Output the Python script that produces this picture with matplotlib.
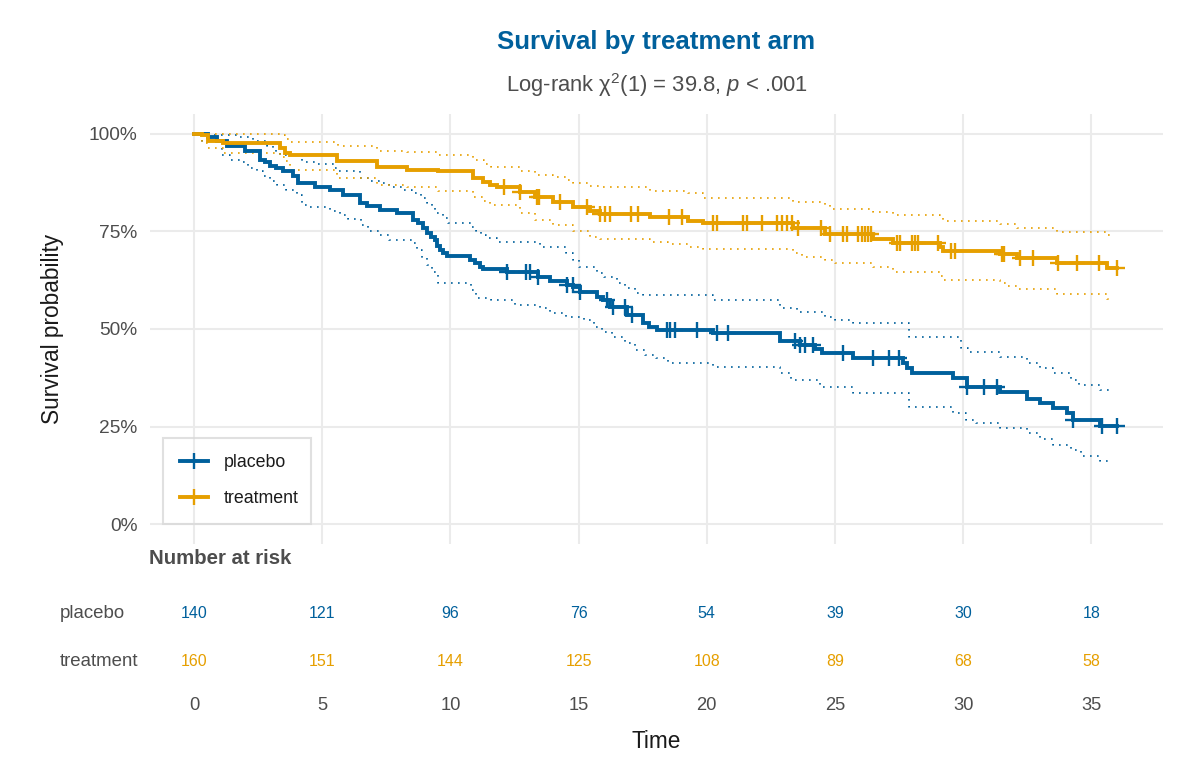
import numpy as np
import matplotlib
matplotlib.use("Agg")
import matplotlib.pyplot as plt
from matplotlib.transforms import blended_transform_factory
from matplotlib.lines import Line2D

plt.rcParams['font.family'] = ['Liberation Sans', 'DejaVu Sans']
plt.rcParams['mathtext.fontset'] = 'custom'
plt.rcParams['mathtext.rm'] = 'Liberation Sans'
plt.rcParams['mathtext.it'] = 'Liberation Sans:italic'

# ---------------- data ----------------
arms = ["placebo", "treatment"]
colors = {"placebo": "#00609C", "treatment": "#E69F00"}
end_time = 36.0
ci_end = 35.85

placebo_t = [0, 0.55, 0.9, 1.3, 2.0, 2.57, 2.75, 2.96, 3.2, 3.47, 3.86, 4.06, 4.72, 5.3, 5.81,
             6.47, 6.75, 7.25, 7.92, 8.54, 8.75, 8.93, 9.1, 9.25, 9.4, 9.48, 9.6, 9.7, 9.87,
             10.76, 10.96, 11.15, 11.27, 12.2, 13.42, 13.88, 14.55, 14.8, 15.05, 15.72, 15.95,
             16.22, 16.89, 17.51, 17.75, 18.06, 20.24, 22.85, 23.64, 24.22, 24.49, 25.7,
             27.65, 27.8, 28.0, 29.6, 30.15, 31.44, 32.49, 33.0, 33.5, 34.05, 34.28, 35.34]
placebo_s = [1.0, 0.99, 0.982, 0.969, 0.956, 0.933, 0.926, 0.918, 0.913, 0.905, 0.892, 0.874,
             0.864, 0.856, 0.844, 0.823, 0.815, 0.805, 0.797, 0.779, 0.772, 0.759, 0.746, 0.736,
             0.728, 0.713, 0.703, 0.695, 0.687, 0.677, 0.669, 0.659, 0.654, 0.646, 0.633, 0.623,
             0.613, 0.608, 0.595, 0.582, 0.574, 0.556, 0.536, 0.515, 0.505, 0.497, 0.49, 0.469,
             0.459, 0.449, 0.438, 0.426, 0.413, 0.4, 0.387, 0.374, 0.351, 0.338, 0.321, 0.31,
             0.297, 0.285, 0.267, 0.251]
placebo_cens = [12.21, 12.95, 13.10, 13.42, 14.55, 14.78, 15.05, 16.11, 16.34, 16.81, 17.08,
                18.45, 18.56, 18.76, 19.62, 20.40, 20.83, 23.44, 23.64, 23.83, 24.14, 25.31,
                26.48, 27.11, 27.50, 30.15, 30.81, 31.32, 34.28, 35.41, 36.0]

treatment_t = [0, 0.31, 0.55, 1.13, 3.35, 3.55, 3.74, 5.58, 7.14, 8.31, 9.52, 10.88, 11.27,
               11.54, 11.82, 12.71, 13.3, 14.0, 14.78, 15.44, 15.83, 17.78, 19.27, 19.85,
               23.36, 24.6, 26.48, 27.26, 29.1, 29.21, 31.44, 32.1, 33.66, 35.61]
treatment_s = [1.0, 0.995, 0.982, 0.977, 0.964, 0.951, 0.946, 0.931, 0.915, 0.908, 0.903,
               0.887, 0.877, 0.869, 0.864, 0.851, 0.838, 0.826, 0.813, 0.803, 0.795, 0.787,
               0.777, 0.772, 0.759, 0.744, 0.731, 0.721, 0.71, 0.70, 0.692, 0.682, 0.669, 0.656]
treatment_cens = [12.09, 12.71, 13.38, 13.46, 14.27, 15.33, 15.83, 16.03, 16.22, 17.04, 17.32,
                  18.53, 19.03, 20.24, 20.40, 21.41, 21.57, 22.15, 22.74, 22.93, 23.13, 23.32,
                  23.56, 24.45, 24.80, 25.31, 25.47, 25.90, 26.05, 26.17, 26.29, 26.40, 27.42,
                  27.53, 28.00, 28.12, 28.24, 29.02, 29.52, 29.68, 31.51, 31.59, 32.22, 32.72,
                  33.70, 34.44, 35.30, 36.0]

placebo_up_t = [0, 0.6, 1.8, 2.3, 2.85, 3.1, 3.2, 3.35, 4.2, 4.7, 5.45, 5.6, 6.47, 6.8, 7.25,
                7.6, 8.15, 8.5, 8.85, 9.1, 9.3, 9.4, 9.7, 9.9, 10.8, 11.0, 11.2, 11.4, 11.8,
                13.5, 14.5, 14.8, 15.0, 15.7, 16.0, 16.5, 16.8, 17.2, 17.5, 20.24, 22.85, 23.5,
                24.6, 25.0, 25.7, 27.9, 29.9, 30.2, 31.44, 32.5, 33.0, 33.5, 34.2, 34.5, 35.34]
placebo_up_s = [1.0, 0.997, 0.992, 0.982, 0.969, 0.959, 0.951, 0.946, 0.928, 0.921, 0.913,
                0.905, 0.887, 0.879, 0.874, 0.862, 0.856, 0.849, 0.836, 0.823, 0.81, 0.797,
                0.785, 0.772, 0.762, 0.751, 0.741, 0.733, 0.723, 0.71, 0.695, 0.677, 0.659,
                0.644, 0.633, 0.618, 0.605, 0.592, 0.587, 0.574, 0.554, 0.544, 0.531, 0.523,
                0.515, 0.479, 0.451, 0.441, 0.428, 0.413, 0.40, 0.387, 0.369, 0.356, 0.344]
placebo_lo_t = [0, 0.3, 1.1, 1.4, 1.8, 2.1, 2.45, 2.7, 2.95, 3.25, 3.6, 4.0, 4.2, 4.5, 5.3,
                5.7, 6.0, 6.5, 6.8, 7.2, 7.6, 8.5, 8.7, 8.9, 9.1, 9.3, 9.5, 10.8, 11.0, 11.6,
                12.5, 13.5, 13.9, 14.5, 15.2, 15.6, 15.9, 16.3, 16.8, 17.2, 17.6, 18.0, 18.5,
                20.24, 22.85, 23.3, 24.4, 25.7, 27.9, 29.6, 30.1, 30.5, 31.44, 32.5, 33.0, 33.5,
                34.2, 34.6, 35.34]
placebo_lo_s = [1.0, 0.982, 0.946, 0.933, 0.926, 0.913, 0.905, 0.892, 0.879, 0.869, 0.856,
                0.844, 0.818, 0.813, 0.803, 0.792, 0.782, 0.767, 0.751, 0.741, 0.728, 0.721,
                0.703, 0.682, 0.664, 0.646, 0.618, 0.60, 0.579, 0.574, 0.562, 0.554, 0.541,
                0.531, 0.523, 0.505, 0.492, 0.479, 0.464, 0.446, 0.433, 0.426, 0.413, 0.403,
                0.387, 0.369, 0.351, 0.336, 0.30, 0.285, 0.267, 0.259, 0.246, 0.233, 0.218,
                0.203, 0.19, 0.174, 0.162]

treatment_up_t = [0, 3.35, 3.55, 3.75, 5.5, 5.6, 7.14, 8.3, 9.5, 10.88, 11.3, 11.6, 12.7,
                  13.3, 14.0, 14.5, 14.78, 15.4, 15.83, 17.78, 19.27, 19.85, 23.36, 24.6, 24.8,
                  26.48, 27.26, 29.1, 29.21, 31.44, 32.1, 33.66, 35.61]
treatment_up_s = [1.0, 0.995, 0.987, 0.979, 0.974, 0.967, 0.956, 0.954, 0.946, 0.933, 0.923,
                  0.915, 0.905, 0.895, 0.89, 0.882, 0.874, 0.867, 0.862, 0.854, 0.849, 0.836,
                  0.826, 0.818, 0.808, 0.80, 0.792, 0.785, 0.777, 0.769, 0.759, 0.749, 0.741]
treatment_lo_t = [0, 0.3, 0.55, 1.13, 3.35, 3.55, 3.74, 5.58, 7.14, 8.31, 9.52, 10.88, 11.27,
                  11.54, 12.71, 13.3, 14.0, 14.78, 15.44, 15.83, 17.78, 18.5, 19.27, 19.85,
                  23.36, 23.7, 24.6, 25.0, 26.48, 27.26, 29.1, 29.21, 31.44, 31.7, 32.1, 33.66,
                  35.61]
treatment_lo_s = [1.0, 0.977, 0.964, 0.951, 0.941, 0.931, 0.908, 0.885, 0.869, 0.862, 0.854,
                  0.838, 0.828, 0.818, 0.797, 0.779, 0.767, 0.751, 0.736, 0.731, 0.723, 0.718,
                  0.71, 0.705, 0.695, 0.685, 0.677, 0.669, 0.659, 0.646, 0.636, 0.626, 0.618,
                  0.61, 0.603, 0.59, 0.577]

risk_times = [0, 5, 10, 15, 20, 25, 30, 35]
risk_placebo = [140, 121, 96, 76, 54, 39, 30, 18]
risk_treatment = [160, 151, 144, 125, 108, 89, 68, 58]

curves = {
    "placebo": (placebo_t, placebo_s, placebo_cens, placebo_up_t, placebo_up_s,
                placebo_lo_t, placebo_lo_s, risk_placebo),
    "treatment": (treatment_t, treatment_s, treatment_cens, treatment_up_t, treatment_up_s,
                  treatment_lo_t, treatment_lo_s, risk_treatment),
}

# ---------------- figure ----------------
W, H = 1200, 780
fig = plt.figure(figsize=(W / 100, H / 100), dpi=100)
px_l, px_r, px_t, px_b = 150, 1163, 114, 544
ax = fig.add_axes([px_l / W, 1 - px_b / H, (px_r - px_l) / W, (px_b - px_t) / H])

grid_c = "#EBEBEB"
text_grey = "#4D4D4D"

def step_xy(t, s, end):
    t = list(t) + [end]
    s = list(s) + [s[-1]]
    return t, s

def step_val(t, s, x):
    idx = np.searchsorted(np.asarray(t), x, side="right") - 1
    return np.asarray(s)[idx]

for arm in arms:
    t, s, cens, ut, us, lt, ls, _ = curves[arm]
    c = colors[arm]
    xu, yu = step_xy(ut, us, ci_end)
    xl, yl = step_xy(lt, ls, ci_end)
    ax.step(xu, yu, where="post", color=c, lw=1.2, ls=(0, (1, 3.2)), zorder=2)
    ax.step(xl, yl, where="post", color=c, lw=1.2, ls=(0, (1, 3.2)), zorder=2)
    xs, ys = step_xy(t, s, end_time)
    ax.step(xs, ys, where="post", color=c, lw=2.8, zorder=3, solid_joinstyle="miter")
    cy = step_val(t, s, np.asarray(cens))
    ax.plot(cens, cy, ls="none", marker="+", ms=11.5, mew=1.7, color=c, zorder=4)

ax.set_xlim((px_l - 194) / 25.64, (px_r - 194) / 25.64)
ax.set_ylim(-0.05, 1.05)
ax.set_xticks(risk_times)
ax.set_yticks([0, 0.25, 0.5, 0.75, 1.0])
ax.set_yticklabels(["0%", "25%", "50%", "75%", "100%"])
ax.tick_params(axis="x", length=0, labelbottom=False)
ax.tick_params(axis="y", length=0, labelsize=13.8, colors=text_grey, pad=9)
ax.grid(True, color=grid_c, lw=1.5)
ax.set_axisbelow(True)
for sp in ax.spines.values():
    sp.set_visible(False)
ax.set_ylabel("Survival probability", fontsize=16.3, color="#1A1A1A", labelpad=18)

# legend
handles = [Line2D([0], [0], color=colors[a], lw=2.8, marker="+", ms=11.5, mew=1.7) for a in arms]
leg = fig.legend(handles, arms, loc="lower left",
                 bbox_to_anchor=(163 / W, 1 - 524 / H, (311 - 163) / W, (524 - 430) / H),
                 mode="expand", borderaxespad=0, fontsize=12.8, frameon=True, fancybox=False,
                 handlelength=1.6, handletextpad=0.85, labelspacing=1.05, borderpad=0.95)
leg.get_frame().set_edgecolor("#D9D9D9")
leg.get_frame().set_facecolor("none")
leg.get_frame().set_linewidth(1.5)
for txt in leg.get_texts():
    txt.set_color("#1A1A1A")

# titles
cx = (px_l + px_r) / 2 / W
fig.text(cx, 1 - 42 / H, "Survival by treatment arm", ha="center", va="center",
         fontsize=18.6, fontweight="bold", color=colors["placebo"])
fig.text(cx, 1 - 85 / H, r"Log-rank χ$^{2}$(1) = 39.8, $\it{p}$ < .001", ha="center",
         va="center", fontsize=15.8, color=text_grey)

# risk table
tr = blended_transform_factory(ax.transData, fig.transFigure)
fig.text(149 / W, 1 - 559 / H, "Number at risk", ha="left", va="center", fontsize=14.7,
         fontweight="bold", color=text_grey)
row_y = {"placebo": 613, "treatment": 661}
for arm in arms:
    fig.text(60 / W, 1 - row_y[arm] / H, arm, ha="left", va="center", fontsize=13.4,
             color=text_grey)
    for tt, n in zip(risk_times, curves[arm][7]):
        ax.text(tt, 1 - row_y[arm] / H, str(n), transform=tr, ha="center", va="center",
                fontsize=11.5, color=colors[arm])
for tt in risk_times:
    ax.text(tt, 1 - 706 / H, str(tt), transform=tr, ha="center", va="center",
            fontsize=13.2, color=text_grey)
fig.text(cx, 1 - 741 / H, "Time", ha="center", va="center", fontsize=16.3, color="#1A1A1A")

fig.savefig("out.png", dpi=100, facecolor="white")
